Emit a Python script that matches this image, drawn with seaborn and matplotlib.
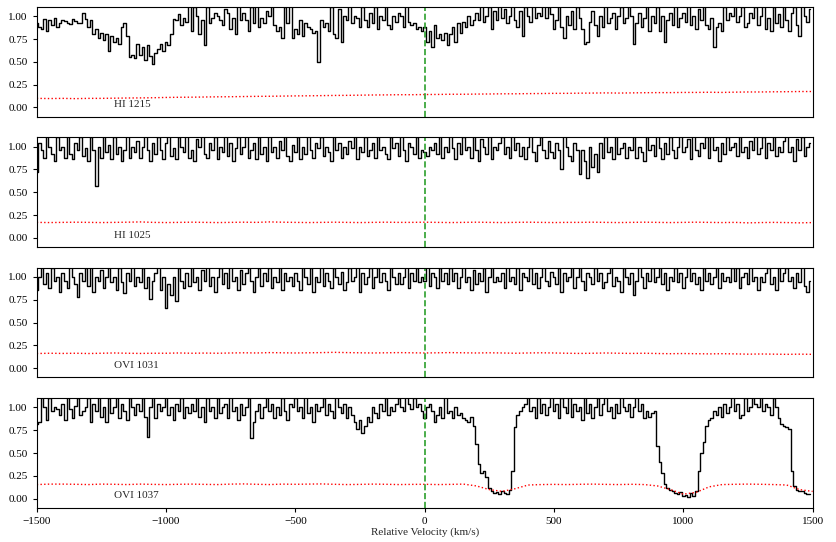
import numpy as np
import pandas as pd
import matplotlib
matplotlib.use("Agg")
import matplotlib.pyplot as plt
import seaborn as sns

# velocity grid of the flux bins (km/s) and of the error samples
vel_start, vel_step, n_bins = -1500, 10, 300
err_step, n_err = 50, 61

lines = ["HI 1215", "HI 1025", "OVI 1031", "OVI 1037"]

# normalised flux, in hundredths, one value per 10 km/s bin
flux_hi1215 = [
    92, 88, 86, 97, 84, 96, 90, 98, 88, 93,
    96, 95, 92, 91, 97, 95, 92, 93, 104, 97,
    88, 96, 80, 86, 76, 82, 74, 80, 62, 78,
    72, 76, 70, 88, 93, 78, 55, 58, 54, 70,
    58, 66, 52, 68, 56, 48, 60, 64, 70, 62,
    72, 68, 80, 97, 96, 102, 90, 98, 94, 112,
    84, 110, 100, 80, 96, 68, 110, 92, 98, 104,
    100, 96, 90, 108, 104, 86, 98, 80, 112, 96,
    104, 96, 84, 110, 92, 112, 88, 98, 92, 106,
    100, 112, 90, 84, 88, 76, 110, 92, 112, 76,
    86, 80, 96, 78, 92, 88, 86, 82, 84, 50,
    96, 88, 92, 84, 110, 80, 76, 108, 72, 100,
    96, 112, 92, 100, 98, 88, 110, 96, 88, 104,
    92, 110, 86, 100, 96, 112, 90, 86, 100, 94,
    104, 100, 88, 112, 94, 90, 92, 86, 88, 84,
    88, 72, 84, 66, 90, 76, 80, 74, 82, 68,
    80, 88, 72, 92, 82, 94, 88, 100, 90, 96,
    104, 96, 112, 94, 100, 110, 86, 106, 96, 112,
    98, 108, 92, 100, 112, 96, 88, 106, 78, 110,
    100, 94, 112, 98, 104, 100, 112, 98, 110, 102,
    86, 96, 112, 88, 76, 100, 90, 106, 86, 110,
    98, 86, 70, 72, 94, 106, 90, 78, 100, 88,
    112, 92, 98, 104, 86, 100, 110, 92, 98, 112,
    100, 70, 92, 104, 88, 98, 112, 84, 100, 92,
    110, 84, 100, 72, 96, 104, 90, 112, 88, 98,
    104, 94, 112, 90, 100, 86, 108, 96, 112, 90,
    86, 98, 66, 88, 92, 84, 110, 96, 104, 100,
    112, 94, 100, 110, 88, 92, 104, 98, 110, 90,
    100, 112, 86, 98, 84, 110, 92, 102, 88, 112,
    96, 84, 104, 110, 90, 78, 112, 100, 94, 108,
]

flux_hi1025 = [
    72, 104, 96, 88, 112, 100, 92, 84, 110, 96,
    100, 88, 112, 92, 86, 104, 96, 110, 90, 98,
    84, 110, 96, 57, 100, 88, 112, 94, 102, 86,
    110, 92, 100, 84, 96, 112, 88, 100, 94, 106,
    88, 100, 112, 96, 84, 104, 92, 110, 96, 86,
    104, 112, 90, 98, 86, 110, 100, 94, 112, 88,
    96, 84, 108, 100, 112, 92, 88, 104, 96, 110,
    86, 100, 94, 112, 90, 104, 84, 98, 110, 92,
    100, 112, 88, 96, 104, 86, 110, 92, 100, 84,
    112, 94, 100, 88, 106, 96, 112, 90, 84, 102,
    94, 110, 86, 100, 92, 112, 96, 88, 104, 98,
    110, 90, 100, 94, 84, 112, 96, 104, 88, 100,
    92, 106, 98, 112, 86, 100, 94, 110, 90, 96,
    104, 88, 112, 96, 100, 92, 86, 110, 98, 104,
    90, 112, 96, 84, 104, 100, 92, 110, 88, 96,
    94, 90, 100, 96, 104, 92, 112, 88, 100, 94,
    112, 98, 86, 104, 92, 110, 96, 100, 88, 112,
    96, 84, 108, 100, 92, 112, 86, 100, 96, 104,
    110, 92, 100, 88, 112, 96, 104, 90, 100, 86,
    100, 112, 94, 84, 102, 110, 96, 88, 106, 94,
    88, 104, 96, 76, 112, 100, 90, 84, 104, 96,
    70, 96, 84, 66, 100, 78, 92, 72, 104, 88,
    110, 94, 100, 86, 112, 92, 98, 104, 88, 100,
    96, 112, 88, 100, 94, 84, 110, 96, 102, 90,
    112, 98, 86, 104, 92, 110, 96, 88, 100, 112,
    94, 100, 108, 86, 112, 96, 90, 104, 98, 110,
    88, 112, 96, 100, 84, 104, 92, 110, 96, 100,
    104, 90, 112, 94, 100, 88, 106, 96, 112, 92,
    98, 110, 88, 104, 96, 112, 90, 100, 94, 106,
    112, 94, 100, 84, 108, 96, 110, 90, 100, 104,
]

flux_ovi1031 = [
    86, 100, 112, 92, 104, 88, 110, 96, 100, 84,
    104, 96, 88, 112, 100, 92, 78, 104, 96, 110,
    90, 112, 84, 100, 96, 108, 88, 100, 112, 94,
    100, 86, 110, 94, 82, 104, 96, 112, 90, 100,
    94, 110, 88, 100, 76, 96, 104, 112, 86, 100,
    66, 92, 80, 100, 74, 110, 96, 88, 104, 90,
    112, 94, 100, 86, 108, 96, 112, 90, 100, 84,
    100, 110, 92, 104, 88, 112, 96, 100, 86, 108,
    92, 104, 112, 96, 84, 100, 110, 90, 104, 96,
    110, 88, 100, 94, 112, 86, 104, 96, 100, 90,
    104, 96, 86, 112, 100, 92, 110, 84, 100, 94,
    112, 90, 104, 96, 88, 110, 100, 92, 106, 86,
    94, 110, 96, 100, 112, 84, 104, 92, 100, 110,
    88, 100, 112, 94, 104, 96, 86, 110, 100, 92,
    104, 92, 100, 112, 88, 104, 96, 110, 94, 100,
    96, 112, 90, 104, 100, 88, 110, 96, 104, 92,
    110, 96, 104, 88, 100, 112, 94, 100, 86, 108,
    92, 104, 96, 110, 84, 100, 112, 94, 100, 96,
    104, 88, 112, 96, 100, 92, 110, 86, 104, 100,
    96, 110, 92, 104, 88, 100, 112, 96, 90, 106,
    100, 92, 110, 84, 104, 96, 100, 112, 88, 100,
    112, 96, 86, 104, 100, 92, 110, 96, 104, 88,
    94, 104, 112, 90, 100, 96, 84, 110, 100, 92,
    104, 80, 96, 112, 100, 88, 104, 96, 110, 94,
    100, 112, 92, 104, 86, 100, 96, 110, 94, 104,
    88, 100, 112, 96, 104, 92, 100, 86, 110, 96,
    104, 92, 100, 112, 88, 104, 96, 100, 94, 110,
    96, 110, 88, 100, 104, 92, 112, 96, 100, 86,
    100, 94, 104, 110, 92, 100, 86, 112, 96, 104,
    110, 96, 100, 88, 104, 94, 112, 90, 84, 96,
]

flux_ovi1037 = [
    82, 84, 112, 100, 86, 110, 96, 100, 98, 92,
    104, 86, 112, 98, 88, 102, 110, 92, 96, 100,
    110, 84, 104, 96, 112, 90, 100, 84, 110, 94,
    100, 112, 88, 104, 96, 86, 110, 100, 92, 104,
    96, 110, 90, 68, 100, 112, 88, 104, 96, 100,
    112, 92, 100, 86, 104, 96, 110, 88, 100, 94,
    104, 96, 112, 90, 100, 84, 110, 96, 100, 88,
    110, 94, 100, 104, 88, 112, 96, 100, 86, 104,
    92, 100, 110, 66, 84, 96, 104, 88, 100, 112,
    96, 104, 88, 100, 92, 110, 96, 86, 104, 100,
    110, 96, 100, 88, 112, 94, 100, 84, 104, 96,
    100, 110, 92, 104, 96, 88, 112, 100, 94, 104,
    88, 100, 92, 84, 76, 86, 72, 80, 90, 84,
    100, 94, 88, 104, 96, 110, 92, 100, 96, 104,
    110, 100, 96, 112, 104, 98, 110, 100, 104, 96,
    88, 100, 104, 96, 84, 92, 100, 88, 112, 94,
    96, 88, 100, 92, 94, 88, 86, 84, 90, 80,
    60, 38, 28, 30, 24, 12, 8, 6, 7, 5,
    8, 6, 5, 10, 30, 78, 92, 96, 100, 104,
    112, 96, 100, 88, 110, 94, 104, 92, 100, 112,
    96, 104, 88, 110, 100, 94, 112, 90, 104, 96,
    100, 86, 112, 94, 104, 88, 100, 110, 92, 104,
    112, 96, 100, 88, 104, 94, 112, 100, 96, 104,
    90, 100, 112, 96, 104, 88, 96, 90, 94, 96,
    58, 40, 28, 16, 12, 10, 8, 6, 5, 7,
    3, 4, 2, 6, 3, 8, 30, 50, 62, 80,
    86, 88, 96, 92, 100, 90, 104, 94, 100, 112,
    96, 104, 88, 92, 110, 96, 100, 112, 104, 100,
    112, 96, 104, 100, 92, 110, 100, 88, 82, 80,
    78, 76, 30, 14, 10, 9, 8, 6, 5, 5,
]

# flux error, one sample per 50 km/s
err_hi1215 = [
    .100, .098, .100, .097, .100, .100, .102, .104, .105, .107,
    .110, .112, .113, .115, .117, .118, .120, .122, .123, .125,
    .127, .128, .130, .132, .133, .135, .137, .138, .140, .140,
    .142, .143, .145, .145, .147, .148, .150, .150, .152, .153,
    .155, .155, .157, .158, .160, .158, .160, .162, .163, .163,
    .165, .165, .167, .165, .168, .170, .170, .172, .173, .175,
    .175,
]
err_hi1025 = [
    .170, .168, .170, .172, .170, .168, .170, .172, .175, .170,
    .168, .170, .172, .170, .168, .170, .172, .170, .175, .172,
    .170, .168, .170, .172, .170, .168, .170, .172, .170, .170,
    .172, .170, .168, .170, .172, .170, .168, .170, .172, .170,
    .168, .170, .170, .172, .170, .168, .170, .172, .170, .168,
    .170, .172, .170, .168, .170, .165, .168, .170, .168, .165,
    .168,
]
err_ovi1031 = [
    .162, .165, .163, .165, .162, .165, .168, .165, .163, .165,
    .165, .168, .165, .167, .165, .168, .170, .168, .172, .170,
    .168, .170, .172, .175, .172, .170, .168, .170, .172, .170,
    .168, .170, .172, .170, .168, .170, .168, .165, .168, .170,
    .168, .165, .163, .165, .168, .165, .163, .165, .162, .160,
    .162, .160, .158, .160, .158, .155, .157, .155, .153, .155,
    .153,
]
err_ovi1037 = [
    .155, .160, .160, .158, .155, .160, .158, .155, .160, .157,
    .155, .158, .160, .157, .155, .160, .162, .158, .155, .160,
    .158, .160, .162, .158, .155, .157, .160, .158, .155, .157,
    .158, .155, .157, .160, .140, .100, .080, .110, .150, .155,
    .157, .155, .158, .160, .157, .155, .158, .155, .140, .100,
    .050, .070, .130, .155, .158, .160, .158, .155, .150, .100,
    .080,
]

fluxes = [flux_hi1215, flux_hi1025, flux_ovi1031, flux_ovi1037]
errors = [err_hi1215, err_hi1025, err_ovi1031, err_ovi1037]

sns.set_style("ticks")
plt.rcParams["font.family"] = ["Liberation Serif", "DejaVu Serif"]
plt.rcParams["axes.linewidth"] = 0.8
plt.rcParams["axes.edgecolor"] = "black"
plt.rcParams["xtick.color"] = "black"
plt.rcParams["ytick.color"] = "black"

vel = vel_start + vel_step * np.arange(n_bins)
vel_err = vel_start + err_step * np.arange(n_err)

fig, axes = plt.subplots(4, 1, figsize=(8.36, 5.42), dpi=100, sharex=True)
fig.subplots_adjust(left=0.044, right=0.972, top=0.987, bottom=0.063, hspace=0.19)

for i, ax in enumerate(axes):
    df = pd.DataFrame({"vel": vel, "flux": np.array(fluxes[i]) / 100.0})
    de = pd.DataFrame({"vel": vel_err, "err": errors[i]})
    sns.lineplot(data=df, x="vel", y="flux", ax=ax, color="black",
                 linewidth=1.0, drawstyle="steps-mid")
    sns.lineplot(data=de, x="vel", y="err", ax=ax, color="red",
                 linewidth=1.0, linestyle=":")
    ax.axvline(0, color="#2ca02c", linestyle="--", linewidth=1.2)
    ax.text(-1200, 0.03, lines[i], fontsize=8, ha="left", va="center")

    ax.set_xlim(-1500, 1500)
    ax.set_ylim(-0.1, 1.1)
    ax.set_yticks([0, 0.25, 0.5, 0.75, 1.0])
    ax.set_yticklabels(["0.00", "0.25", "0.50", "0.75", "1.00"])
    ax.tick_params(labelsize=8, length=3, width=0.8)
    ax.set_xlabel("")
    ax.set_ylabel("")
    if i < 3:
        ax.tick_params(axis="x", bottom=False, labelbottom=False)

axes[-1].set_xticks([-1500, -1000, -500, 0, 500, 1000, 1500])
axes[-1].set_xlabel("Relative Velocity (km/s)", fontsize=8, labelpad=1)

fig.savefig("out.png", dpi=100)
